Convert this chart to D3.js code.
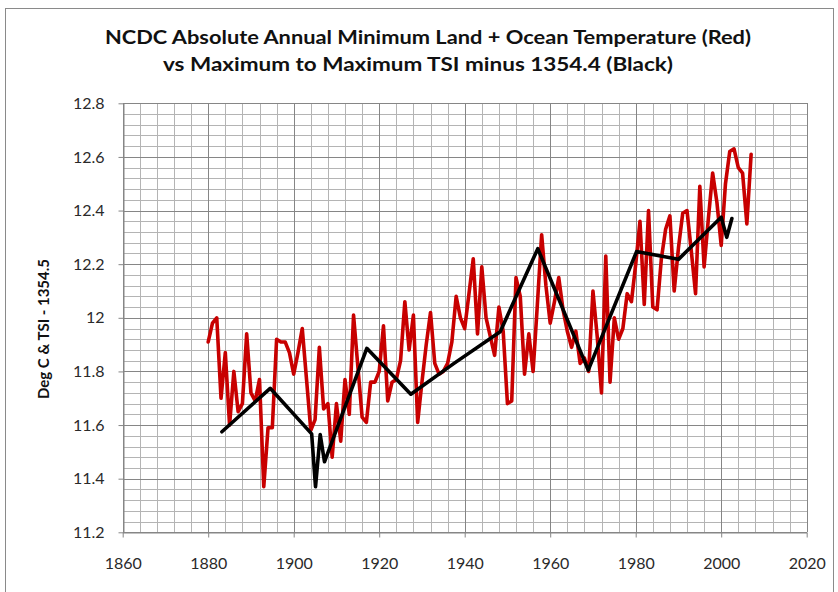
<!DOCTYPE html>
<html>
<head>
<meta charset="utf-8">
<script src="https://cdn.jsdelivr.net/npm/d3@7"></script>
<style>
  body { margin: 0; background: #ffffff; }
  svg text { font-family: Lato, "Open Sans", sans-serif; }
</style>
</head>
<body>
<svg id="chart" width="838" height="592"></svg>
<script>
// Annual minimum land + ocean temperature, one value per year from firstYear
const firstYear = 1880;
const tempValues = [
  11.91, 11.98, 12.00, 11.70, 11.87, 11.60, 11.80, 11.65, 11.68, 11.94, // 1880s
  11.72, 11.69, 11.77, 11.37, 11.59, 11.59, 11.92, 11.91, 11.91, 11.87, // 1890s
  11.79, 11.87, 11.96, 11.77, 11.58, 11.62, 11.89, 11.66, 11.68, 11.48, // 1900s
  11.68, 11.54, 11.77, 11.64, 12.01, 11.82, 11.63, 11.61, 11.76, 11.76, // 1910s
  11.80, 11.97, 11.69, 11.76, 11.77, 11.84, 12.06, 11.88, 12.01, 11.61, // 1920s
  11.76, 11.90, 12.02, 11.83, 11.79, 11.80, 11.83, 11.91, 12.08, 12.00, // 1930s
  11.96, 12.09, 12.22, 11.94, 12.19, 12.00, 11.93, 11.86, 12.04, 11.95, // 1940s
  11.68, 11.69, 12.15, 12.08, 11.79, 11.94, 11.80, 12.05, 12.31, 12.12, // 1950s
  11.98, 12.06, 12.15, 12.03, 11.95, 11.89, 11.95, 11.83, 11.85, 11.80, // 1960s
  12.10, 11.93, 11.72, 12.23, 11.76, 12.00, 11.92, 11.96, 12.09, 12.06, // 1970s
  12.20, 12.36, 12.05, 12.40, 12.04, 12.03, 12.22, 12.33, 12.38, 12.10, // 1980s
  12.26, 12.39, 12.40, 12.25, 12.09, 12.49, 12.19, 12.37, 12.54, 12.43, // 1990s
  12.27, 12.50, 12.62, 12.63, 12.56, 12.54, 12.35, 12.61              // 2000s
];

// Maximum-to-maximum TSI minus 1354.4
const tsiYears  = [1883.2, 1894.5, 1904.2, 1905.1, 1906.2, 1907.2, 1917.1, 1927.4, 1937.5,
                   1948.3, 1957.1, 1968.9, 1980.2, 1990.0, 2000.0, 2001.3, 2002.5];
const tsiValues = [11.575, 11.737, 11.567, 11.37, 11.565, 11.463, 11.886, 11.715, 11.83,
                   11.948, 12.258, 11.805, 12.247, 12.218, 12.375, 12.30, 12.37];

const xTicks = [1860, 1880, 1900, 1920, 1940, 1960, 1980, 2000, 2020];
const yTicks = [11.2, 11.4, 11.6, 11.8, 12.0, 12.2, 12.4, 12.6, 12.8];
const titleLines = [
  "NCDC Absolute Annual Minimum Land + Ocean Temperature (Red)",
  "vs Maximum to Maximum TSI minus 1354.4 (Black)"
];
const yAxisTitle = "Deg C & TSI - 1354.5";

const tempData = tempValues.map((v, i) => ({ year: firstYear + i, value: v }));
const tsiData = tsiYears.map((yr, i) => ({ year: yr, value: tsiValues[i] }));

const svg = d3.select("#chart");
const plot = { left: 122.7, right: 806.7, top: 103.3, bottom: 532.3 };

const x = d3.scaleLinear().domain([1860, 2020]).range([plot.left, plot.right]);
const y = d3.scaleLinear().domain([11.2, 12.8]).range([plot.bottom, plot.top]);

// chart frame
svg.append("rect")
  .attr("x", 5.5).attr("y", 8.5).attr("width", 828).attr("height", 600)
  .attr("fill", "#ffffff").attr("stroke", "#8a8a8a").attr("stroke-width", 1);

// titles
const titleG = svg.append("g").attr("font-weight", "bold").attr("fill", "#111");
titleG.append("text")
  .attr("x", 428).attr("y", 44).attr("text-anchor", "middle")
  .attr("font-size", 18).attr("textLength", 646).attr("lengthAdjust", "spacingAndGlyphs")
  .text(titleLines[0]);
titleG.append("text")
  .attr("x", 418).attr("y", 71).attr("text-anchor", "middle")
  .attr("font-size", 18).attr("textLength", 510).attr("lengthAdjust", "spacingAndGlyphs")
  .text(titleLines[1]);

// gridlines: minor every 4 years / 0.04, major every 20 years / 0.2
const grid = svg.append("g").attr("shape-rendering", "crispEdges");
const minorX = d3.range(1864, 2020, 4).filter(d => d % 20 !== 0);
const minorY = d3.range(0, 40).map(i => 11.2 + i * 0.04).filter((d, i) => i % 5 !== 0);
grid.selectAll(".mx").data(minorX).join("line")
  .attr("x1", d => Math.round(x(d)) + 0.5).attr("x2", d => Math.round(x(d)) + 0.5)
  .attr("y1", plot.top).attr("y2", plot.bottom)
  .attr("stroke", "#b4b4b4").attr("stroke-width", 1);
grid.selectAll(".my").data(minorY).join("line")
  .attr("y1", d => Math.round(y(d)) + 0.5).attr("y2", d => Math.round(y(d)) + 0.5)
  .attr("x1", plot.left).attr("x2", plot.right)
  .attr("stroke", "#b4b4b4").attr("stroke-width", 1);
grid.selectAll(".MX").data(xTicks).join("line")
  .attr("x1", d => Math.round(x(d)) + 0.5).attr("x2", d => Math.round(x(d)) + 0.5)
  .attr("y1", plot.top).attr("y2", plot.bottom)
  .attr("stroke", "#868686").attr("stroke-width", 1);
grid.selectAll(".MY").data(yTicks).join("line")
  .attr("y1", d => Math.round(y(d)) + 0.5).attr("y2", d => Math.round(y(d)) + 0.5)
  .attr("x1", plot.left).attr("x2", plot.right)
  .attr("stroke", "#868686").attr("stroke-width", 1);

// axes
const yAxis = d3.axisLeft(y).tickValues(yTicks).tickSize(5).tickSizeOuter(0).tickPadding(14)
  .tickFormat(d => Math.abs(d - 12) < 1e-9 ? "12" : d.toFixed(1));
const xAxis = d3.axisBottom(x).tickValues(xTicks).tickSize(5).tickSizeOuter(0).tickPadding(20)
  .tickFormat(d3.format("d"));

const gy = svg.append("g").attr("transform", `translate(${Math.round(plot.left) + 0.5},0)`).call(yAxis);
const gx = svg.append("g").attr("transform", `translate(0,${Math.round(plot.bottom) + 0.5})`).call(xAxis);
[gx, gy].forEach(g => {
  g.select(".domain").attr("stroke", "#868686");
  g.selectAll(".tick line").attr("stroke", "#868686");
  g.selectAll(".tick text").attr("font-size", 16).attr("fill", "#2a2a2a")
    .style("font-family", "Lato, 'Open Sans', sans-serif");
});

// y axis title
svg.append("text")
  .attr("transform", "translate(49,329) rotate(-90)")
  .attr("text-anchor", "middle")
  .attr("font-size", 14.5).attr("font-weight", "bold").attr("fill", "#111")
  .attr("textLength", 140).attr("lengthAdjust", "spacingAndGlyphs")
  .text(yAxisTitle);

// series lines
const line = d3.line().x(d => x(d.year)).y(d => y(d.value));

svg.append("path").datum(tempData)
  .attr("d", line)
  .attr("fill", "none").attr("stroke", "#c80000").attr("stroke-width", 3.6)
  .attr("stroke-linejoin", "round").attr("stroke-linecap", "round");

svg.append("path").datum(tsiData)
  .attr("d", line)
  .attr("fill", "none").attr("stroke", "#000000").attr("stroke-width", 3.6)
  .attr("stroke-linejoin", "round").attr("stroke-linecap", "round");
</script>
</body>
</html>
